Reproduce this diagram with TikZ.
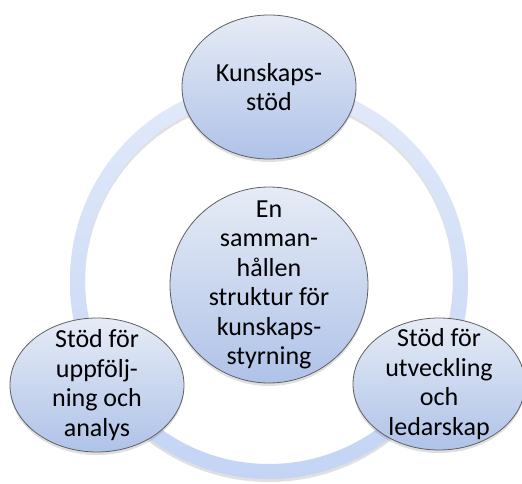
\documentclass[tikz,border=0pt]{standalone}
\usepackage{fontspec}
\setmainfont{Carlito}
\usepackage{tikz}
\usetikzlibrary{shapes.geometric, shadows}
\definecolor{ringtop}{HTML}{E2EAFA}
\definecolor{ringbot}{HTML}{C3D4F5}
\definecolor{balltop}{HTML}{E6ECF6}
\definecolor{ballbot}{HTML}{AFC2E8}
\definecolor{rim}{HTML}{5F5F5F}
\tikzstyle{ball} = [ellipse, draw = rim, line width = 0.8pt, top color = balltop, bottom color = ballbot, drop shadow = {opacity = 0.25, shadow xshift = 0pt, shadow yshift = -3pt}]
\tikzstyle{words} = [align = center, text = black, font = \fontsize{26}{29.5}\selectfont]

\begin{document}
\begin{tikzpicture}[x=1pt, y=-1pt]
  \useasboundingbox (0,0) rectangle (522,484);
  \coordinate (mid) at (269,280);
  % ring
  \fill [black, opacity = 0.12, even odd rule] ([yshift=-3pt]mid) circle (199) ([yshift=-3pt]mid) circle (184);
  \shade [top color = ringtop, bottom color = ringbot, even odd rule] (mid) circle (199) (mid) circle (184);
  % circles
  \node (hub) [ball, minimum width = 198pt, minimum height = 196pt] at (269,285) {};
  \node (ks) [ball, minimum width = 174pt, minimum height = 144pt] at (269,87) {};
  \node (upf) [ball, minimum width = 174pt, minimum height = 134pt] at (97,385) {};
  \node (utv) [ball, minimum width = 172pt, minimum height = 132pt] at (439,384) {};
  % texts
  \node (hubtxt) [words] at (hub) {En\\samman-\\hållen\\struktur för\\kunskaps-\\styrning};
  \node (kstxt) [words] at (ks) {Kunskaps-\\stöd};
  \node (upftxt) [words] at (upf) {Stöd för\\uppfölj-\\ning och\\analys};
  \node (utvtxt) [words] at (utv) {Stöd för\\utveckling\\och\\ledarskap};
\end{tikzpicture}
\end{document}
